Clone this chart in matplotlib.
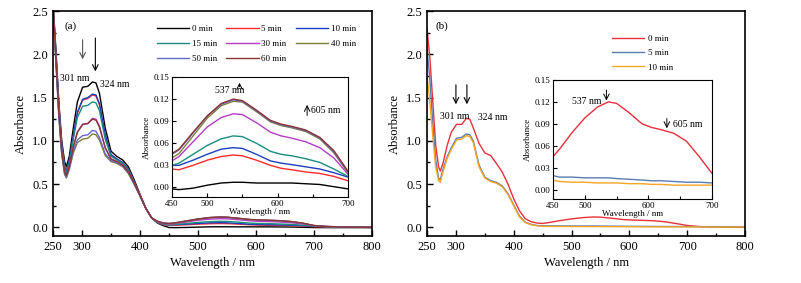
import matplotlib
matplotlib.use("Agg")
import matplotlib.pyplot as plt
from matplotlib.ticker import MultipleLocator, FixedLocator

plt.rcParams["font.family"] = ["Liberation Serif", "DejaVu Serif"]
plt.rcParams["axes.linewidth"] = 1.2
plt.rcParams["xtick.direction"] = "in"
plt.rcParams["ytick.direction"] = "in"

# shared wavelength grid (nm)
wl = [250, 255, 260, 265, 270, 273, 278, 285, 292, 301, 310, 318, 324, 330,
      340, 350, 360, 370, 380, 390, 400, 410, 420, 430, 440,
      450, 460, 480, 500, 520, 537, 550, 570, 590, 605, 620, 640, 660, 680, 700,
      720, 750, 800]

# panel (a) spectra
a_labels = ["0 min", "5 min", "10 min", "15 min", "30 min", "40 min", "50 min", "60 min"]
a_0 = [2.60, 2.05, 1.45, 1.00, 0.76, 0.70, 0.82, 1.15, 1.45, 1.62, 1.63, 1.68, 1.67, 1.55,
       1.15, 0.88, 0.82, 0.78, 0.70, 0.55, 0.38, 0.22, 0.11, 0.05, 0.02,
       -0.002, -0.003, -0.001, 0.003, 0.006, 0.007, 0.007, 0.006, 0.006, 0.006, 0.006, 0.005,
       0.004, 0.001, -0.002, -0.003, -0.003, -0.003]
a_5 = [2.58, 2.00, 1.40, 0.95, 0.70, 0.64, 0.76, 1.05, 1.32, 1.47, 1.49, 1.53, 1.52, 1.42,
       1.06, 0.84, 0.79, 0.75, 0.67, 0.53, 0.37, 0.22, 0.11, 0.055, 0.03,
       0.025, 0.024, 0.030, 0.037, 0.042, 0.044, 0.043, 0.037, 0.030, 0.026, 0.024, 0.021,
       0.019, 0.015, 0.009, 0.005, 0.002, 0.0]
a_10 = [2.58, 2.00, 1.40, 0.95, 0.70, 0.65, 0.77, 1.06, 1.33, 1.48, 1.50, 1.54, 1.53, 1.43,
        1.07, 0.84, 0.79, 0.75, 0.67, 0.53, 0.37, 0.22, 0.11, 0.06, 0.035,
        0.030, 0.030, 0.037, 0.045, 0.052, 0.054, 0.053, 0.045, 0.036, 0.033, 0.031, 0.028,
        0.025, 0.020, 0.014, 0.008, 0.003, 0.0]
a_15 = [2.57, 1.98, 1.38, 0.93, 0.68, 0.63, 0.74, 1.02, 1.27, 1.40, 1.41, 1.45, 1.44, 1.35,
        1.02, 0.82, 0.78, 0.74, 0.66, 0.52, 0.37, 0.22, 0.11, 0.06, 0.035,
        0.030, 0.033, 0.045, 0.057, 0.066, 0.070, 0.069, 0.060, 0.049, 0.045, 0.043, 0.039,
        0.034, 0.025, 0.015, 0.008, 0.003, 0.0]
a_30 = [2.55, 1.95, 1.33, 0.88, 0.64, 0.60, 0.70, 0.93, 1.10, 1.19, 1.20, 1.26, 1.25, 1.17,
        0.92, 0.79, 0.76, 0.72, 0.64, 0.51, 0.37, 0.22, 0.11, 0.065, 0.045,
        0.036, 0.042, 0.062, 0.082, 0.095, 0.100, 0.099, 0.088, 0.075, 0.070, 0.067, 0.062,
        0.054, 0.040, 0.018, 0.010, 0.004, 0.0]
a_40 = [2.52, 1.90, 1.28, 0.84, 0.61, 0.57, 0.67, 0.86, 0.98, 1.02, 1.03, 1.08, 1.07, 1.01,
        0.83, 0.76, 0.74, 0.70, 0.62, 0.50, 0.36, 0.22, 0.11, 0.07, 0.05,
        0.040, 0.046, 0.070, 0.094, 0.111, 0.117, 0.116, 0.103, 0.089, 0.084, 0.081, 0.076,
        0.066, 0.047, 0.020, 0.010, 0.004, 0.0]
a_50 = [2.53, 1.92, 1.30, 0.86, 0.62, 0.58, 0.68, 0.88, 1.01, 1.06, 1.07, 1.12, 1.11, 1.04,
        0.85, 0.77, 0.75, 0.71, 0.63, 0.50, 0.36, 0.22, 0.11, 0.07, 0.05,
        0.045, 0.051, 0.074, 0.097, 0.113, 0.119, 0.117, 0.104, 0.090, 0.085, 0.082, 0.077,
        0.067, 0.048, 0.021, 0.011, 0.004, 0.0]
a_60 = [2.55, 1.95, 1.33, 0.88, 0.64, 0.60, 0.70, 0.93, 1.10, 1.19, 1.20, 1.25, 1.24, 1.16,
        0.92, 0.79, 0.76, 0.72, 0.64, 0.51, 0.37, 0.22, 0.11, 0.07, 0.05,
        0.046, 0.052, 0.075, 0.097, 0.114, 0.120, 0.118, 0.105, 0.091, 0.086, 0.083, 0.078,
        0.068, 0.050, 0.022, 0.011, 0.004, 0.0]
a_colors = ["#000000", "#ff2a2a", "#1c3fbf", "#1a8c80", "#b43cc4", "#7f7f3a", "#6868c8", "#8b3434"]

# panel (b) spectra
b_labels = ["0 min", "5 min", "10 min"]
b_0 = [2.30, 1.95, 1.45, 0.95, 0.70, 0.65, 0.75, 0.95, 1.10, 1.19, 1.19, 1.26, 1.25, 1.15,
       0.97, 0.86, 0.83, 0.74, 0.64, 0.50, 0.33, 0.19, 0.10, 0.065, 0.05,
       0.045, 0.055, 0.078, 0.098, 0.113, 0.120, 0.118, 0.105, 0.090, 0.085, 0.082, 0.077,
       0.066, 0.045, 0.022, 0.010, 0.003, 0.0]
b_5 = [2.07, 1.70, 1.20, 0.78, 0.57, 0.55, 0.68, 0.82, 0.92, 1.03, 1.04, 1.08, 1.07, 1.00,
       0.72, 0.58, 0.54, 0.52, 0.48, 0.39, 0.26, 0.13, 0.06, 0.035, 0.022,
       0.019, 0.017, 0.017, 0.016, 0.016, 0.016, 0.015, 0.014, 0.013, 0.012, 0.012, 0.011,
       0.010, 0.010, 0.009, 0.008, 0.007, 0.006]
b_10 = [1.75, 1.45, 1.05, 0.70, 0.54, 0.52, 0.65, 0.80, 0.90, 1.01, 1.02, 1.06, 1.05, 0.98,
        0.70, 0.57, 0.53, 0.51, 0.47, 0.38, 0.25, 0.12, 0.055, 0.03, 0.017,
        0.013, 0.011, 0.010, 0.010, 0.009, 0.009, 0.009, 0.008, 0.008, 0.007, 0.007, 0.006,
        0.006, 0.006, 0.006, 0.005, 0.004, 0.004]
b_colors = ["#e8303a", "#5a7db0", "#f5a623"]

a_series = [a_0, a_5, a_10, a_15, a_30, a_40, a_50, a_60]
b_series = [b_0, b_5, b_10]


def style_main(ax):
    ax.set_xlim(250, 800)
    ax.set_ylim(-0.1, 2.5)
    ax.xaxis.set_major_locator(FixedLocator([250, 300, 400, 500, 600, 700, 800]))
    ax.xaxis.set_minor_locator(MultipleLocator(50))
    ax.yaxis.set_major_locator(MultipleLocator(0.5))
    ax.yaxis.set_minor_locator(MultipleLocator(0.25))
    ax.yaxis.set_major_formatter(matplotlib.ticker.FormatStrFormatter("%.1f"))
    ax.tick_params(which="major", length=4, width=1, labelsize=9, top=False, right=False)
    ax.tick_params(which="minor", length=2, width=1, top=False, right=False)
    ax.set_xlabel("Wavelength / nm", fontsize=9, labelpad=3)
    ax.set_ylabel("Absorbance", fontsize=9, labelpad=4)


def style_inset(ax):
    ax.set_xlim(450, 700)
    ax.set_ylim(-0.013, 0.15)
    ax.xaxis.set_major_locator(FixedLocator([450, 500, 600, 700]))
    ax.xaxis.set_minor_locator(FixedLocator([550, 650]))
    ax.yaxis.set_major_locator(MultipleLocator(0.03))
    ax.yaxis.set_major_formatter(matplotlib.ticker.FormatStrFormatter("%.2f"))
    ax.tick_params(which="major", length=3, width=0.8, labelsize=6.5, pad=2)
    ax.tick_params(which="minor", length=2, width=0.8)
    for s in ax.spines.values():
        s.set_linewidth(0.8)
    ax.set_xlabel("Wavelength / nm", fontsize=6.5, labelpad=0)
    ax.set_ylabel("Absorbance", fontsize=6.5, labelpad=2)


fig = plt.figure(figsize=(8.01, 2.83), dpi=100)
ax_a = fig.add_axes([0.0662, 0.166, 0.3982, 0.795])
ax_b = fig.add_axes([0.5331, 0.166, 0.397, 0.795])
in_a = fig.add_axes([0.2147, 0.3039, 0.2197, 0.424])
in_b = fig.add_axes([0.6904, 0.2968, 0.1985, 0.4205])

# ---- panel (a)
handles = []
for y, c, lab in zip(a_series, a_colors, a_labels):
    h, = ax_a.plot(wl, y, color=c, lw=1.0, label=lab)
    in_a.plot(wl, y, color=c, lw=1.0)
    handles.append(h)
style_main(ax_a)
style_inset(in_a)
order = [0, 3, 6, 1, 4, 7, 2, 5]
ax_a.legend([handles[i] for i in order], [a_labels[i] for i in order], ncol=3,
            loc="upper right", bbox_to_anchor=(0.975, 0.975), frameon=False, fontsize=6.5,
            handlelength=3.6, handletextpad=0.3, columnspacing=1.0, labelspacing=0.75)
ax_a.text(269, 2.33, "(a)", fontsize=8, ha="left", va="center")
ax_a.annotate("", xy=(301, 1.91), xytext=(301, 2.20),
              arrowprops=dict(arrowstyle="->", color="#555555", lw=0.8))
ax_a.annotate("", xy=(323, 1.77), xytext=(323, 2.22),
              arrowprops=dict(arrowstyle="->", color="black", lw=0.8))
ax_a.text(287, 1.72, "301 nm", fontsize=7, ha="center", va="center")
ax_a.text(356, 1.65, "324 nm", fontsize=7, ha="center", va="center")
in_a.annotate("", xy=(546, 0.146), xytext=(546, 0.133),
              arrowprops=dict(arrowstyle="->", color="black", lw=0.7))
in_a.text(532, 0.132, "537 nm", fontsize=7, ha="center", va="center")
in_a.annotate("", xy=(642, 0.116), xytext=(642, 0.094),
              arrowprops=dict(arrowstyle="->", color="black", lw=0.7))
in_a.text(647, 0.104, "605 nm", fontsize=7, ha="left", va="center")

# ---- panel (b)
for y, c, lab in zip(b_series, b_colors, b_labels):
    ax_b.plot(wl, y, color=c, lw=1.0, label=lab)
    in_b.plot(wl, y, color=c, lw=1.0)
style_main(ax_b)
style_inset(in_b)
ax_b.legend(loc="upper left", bbox_to_anchor=(0.555, 0.93), frameon=False, fontsize=6.5,
            handlelength=3.6, handletextpad=0.4, labelspacing=0.65)
ax_b.text(265, 2.33, "(b)", fontsize=8, ha="left", va="center")
for xa in (300, 319):
    ax_b.annotate("", xy=(xa, 1.39), xytext=(xa, 1.68),
                  arrowprops=dict(arrowstyle="->", color="black", lw=0.8))
ax_b.text(298, 1.28, "301 nm", fontsize=7, ha="center", va="center")
ax_b.text(364, 1.27, "324 nm", fontsize=7, ha="center", va="center")
in_b.annotate("", xy=(534, 0.118), xytext=(534, 0.140),
              arrowprops=dict(arrowstyle="->", color="black", lw=0.7))
in_b.text(503, 0.121, "537 nm", fontsize=7, ha="center", va="center")
in_b.annotate("", xy=(629, 0.080), xytext=(629, 0.101),
              arrowprops=dict(arrowstyle="->", color="black", lw=0.7))
in_b.text(638, 0.089, "605 nm", fontsize=7, ha="left", va="center")

fig.savefig("out.png", dpi=100)
